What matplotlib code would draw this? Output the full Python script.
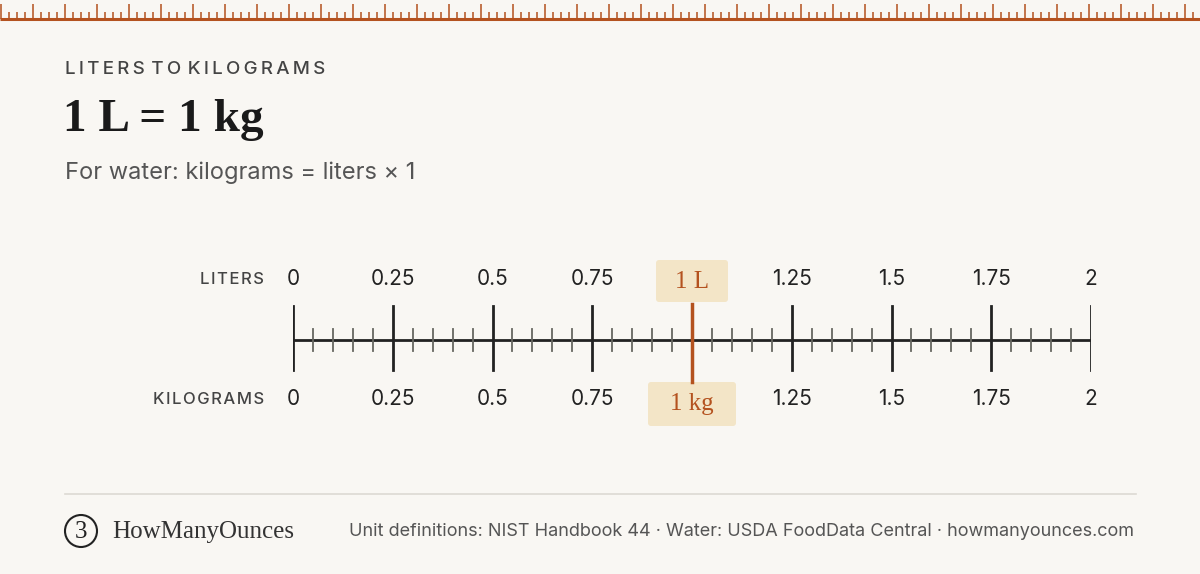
import matplotlib
matplotlib.use("Agg")
import matplotlib.pyplot as plt
from matplotlib.patches import FancyBboxPatch, Circle
import numpy as np

liters_ticks = [0, 0.25, 0.5, 0.75, 1, 1.25, 1.5, 1.75, 2]
tick_labels = ["0", "0.25", "0.5", "0.75", "1", "1.25", "1.5", "1.75", "2"]
minor_step = 0.05
value_l = 1
value_kg = 1

BG = "#f9f7f3"
ORANGE = "#b4521f"
DARK = "#222222"
GREY = "#555555"

def spaced(s, sep="\u200a"):
    return sep.join(s).replace(sep + " " + sep, "\u2009\u2009")

fig = plt.figure(figsize=(12, 5.74), dpi=100, facecolor=BG)
ax = fig.add_axes([0, 0, 1, 1])
ax.set_xlim(0, 1200); ax.set_ylim(574, 0); ax.axis("off")
ax.set_facecolor(BG)

# top ruler decoration
ax.plot([0, 1200], [19, 19], color=ORANGE, lw=2.2, solid_capstyle="butt")
for i, x in enumerate(np.arange(1, 1200, 8)):
    h = 15 if i % 4 == 0 else 7
    ax.plot([x, x], [19, 19 - h], color=ORANGE, lw=1.3, alpha=0.85, solid_capstyle="butt")

ax.text(65, 69, spaced("LITERS TO KILOGRAMS", "\u2009"), fontsize=13.5, color="#444444", family="Inter",
        weight="medium", va="center", ha="left")
ax.text(63, 120, "1 L = 1 kg", fontsize=34, color="#1a1a1a", family="Liberation Serif",
        weight="bold", va="center", ha="left")
ax.text(65, 173, "For water: kilograms = liters × 1", fontsize=17, color=GREY,
        family="Inter", va="center", ha="left")

ax.text(264, 279, spaced("LITERS"), fontsize=12, color="#444444", family="Inter", weight="medium",
        ha="right", va="center")
ax.text(264, 399, spaced("KILOGRAMS"), fontsize=12, color="#444444", family="Inter", weight="medium",
        ha="right", va="center")

# footer
ax.plot([65, 1136], [494, 494], color="#dddad3", lw=1.2)
ax.add_patch(Circle((81, 531), 16, fill=False, ec=DARK, lw=1.5))
ax.text(81, 532, "3", fontsize=18, family="Liberation Serif", color=DARK, ha="center", va="center")
ax.text(112, 532, "HowManyOunces", fontsize=18, family="Liberation Serif", color="#333333",
        ha="left", va="center")
ax.text(1134, 531, "Unit definitions: NIST Handbook 44 · Water: USDA FoodData Central · howmanyounces.com",
        fontsize=13.0, color=GREY, family="Inter", ha="right", va="center")

# scale axes
sx = fig.add_axes([293/1200, 0, 798/1200, 1])
sx.set_xlim(0, 2); sx.set_ylim(574, 0); sx.axis("off")
sx.patch.set_alpha(0)

sx.plot([0, 2], [340, 340], color=DARK, lw=2)
minors = np.arange(0, 2 + 1e-9, minor_step)
for m in minors:
    if min(abs(m - t) for t in liters_ticks) < 1e-6:
        continue
    sx.plot([m, m], [329, 351], color="#666660", lw=1.3)
for t, lab in zip(liters_ticks, tick_labels):
    if t == value_l:
        continue
    sx.plot([t, t], [306, 370], color=DARK, lw=2)
    sx.text(t, 279, lab, fontsize=15, color=DARK, family="Inter", ha="center", va="center")
    sx.text(t, 399, lab, fontsize=15, color=DARK, family="Inter", ha="center", va="center")

sx.plot([value_l, value_l], [304, 382], color=ORANGE, lw=2.5, zorder=3)
px = 293 + value_l / 2 * 798
ax.add_patch(FancyBboxPatch((px - 36, 260), 72, 42, boxstyle="round,pad=0,rounding_size=3",
                            fc="#f3e5c7", ec="none", zorder=4))
ax.add_patch(FancyBboxPatch((px - 44, 382), 88, 44, boxstyle="round,pad=0,rounding_size=3",
                            fc="#f3e5c7", ec="none", zorder=4))
ax.text(px, 282, f"{value_l:g} L", fontsize=18, color=ORANGE, family="Liberation Serif",
        ha="center", va="center", zorder=5)
ax.text(px, 404, f"{value_kg:g} kg", fontsize=18, color=ORANGE, family="Liberation Serif",
        ha="center", va="center", zorder=5)

fig.savefig("out.png", dpi=100, facecolor=BG)
